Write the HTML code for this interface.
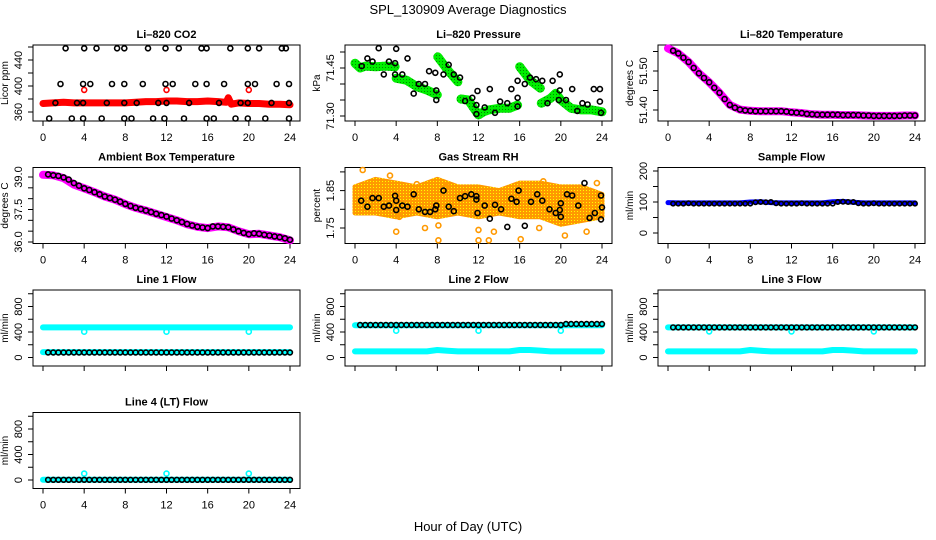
<!DOCTYPE html>
<html><head><meta charset="utf-8"><style>
html,body{margin:0;padding:0;background:#fff;width:936px;height:540px;overflow:hidden}
svg text{font-family:"Liberation Sans",sans-serif;fill:#000}
</style></head><body>
<svg id="chart" width="936" height="540" viewBox="0 0 936 540" xmlns="http://www.w3.org/2000/svg">
<defs>
<pattern id="greenPat" width="3" height="3" patternUnits="userSpaceOnUse"><rect width="3" height="3" fill="#00ee00"/><rect x="1" y="1" width="1" height="1" fill="#008800"/></pattern>
<pattern id="rhPat" width="3" height="3" patternUnits="userSpaceOnUse"><rect width="3" height="3" fill="#ff9900"/><rect x="1" y="1" width="1" height="1" fill="#ffff00"/></pattern>
</defs>
<text x="468" y="14" text-anchor="middle" font-size="13">SPL_130909  Average Diagnostics</text>
<text x="468" y="531" text-anchor="middle" font-size="13">Hour of Day (UTC)</text>
</svg>
<script>
// ---------- data ----------
const xTickHours = [0,4,8,12,16,20,24];
const halfHours = [0.5,1,1.5,2,2.5,3,3.5,4,4.5,5,5.5,6,6.5,7,7.5,8,8.5,9,9.5,10,10.5,11,11.5,12,12.5,13,13.5,14,14.5,15,15.5,16,16.5,17,17.5,18,18.5,19,19.5,20,20.5,21,21.5,22,22.5,23,23.5,24];
const hourly = [0,1,2,3,4,5,6,7,8,9,10,11,12,13,14,15,16,17,18,19,20,21,22,23,24];

// CO2
const co2RedHours = [0,1,2,3,4,5,6,7,8,9,10,11,12,13,14,15,16,17,17.8,18,18.3,19,20,21,22,23,24];
const co2RedVals = [373,374,375,374,374,374,374,374,374,375,376,376,377,377,376,376,377,376,375,382,372,374,373,373,372,372,371];
const co2RedCircleHours = [4,12,20];
const co2RedCircleVals = [394,394,394];
const co2BlackHours = [2.2,4.0,5.2,7.2,7.9,10.2,11.9,13.2,15.4,15.9,18.2,19.9,21.0,23.2,23.6,
 1.7,3.9,4.6,6.7,7.9,9.7,11.9,12.6,14.8,15.9,17.6,19.9,20.6,22.7,23.9,
 0.6,2.8,3.9,5.7,7.9,8.6,10.7,11.8,13.7,15.9,16.6,18.7,19.9,21.6,23.9,
 1.2,3.3,3.9,6.2,7.9,9.1,11.2,12.0,14.2,17.1,19.2,19.9,22.2,23.9];
const co2BlackVals = [458,458,458,458,458,458,458,458,458,458,458,458,458,458,458,
 403,403,403,403,403,403,403,403,403,403,403,403,403,403,403,
 350,350,350,350,350,350,350,350,350,350,350,350,350,350,350,
 374,374,374,374,374,374,374,374,374,374,374,374,374,374];

// Pressure (null breaks the green trace)
const presGreenHours = [0,0.5,1,2,3,3.9,null,4,5,6,7,8,null,8.05,9,10,null,10.3,11,12,12.5,13,14,15,15.8,null,16,17,18,null,18.1,19,19.5,20,21,22,23,24];
const presGreenVals = [71.465,71.450,71.456,71.454,71.456,71.454,null,71.418,71.412,71.392,71.381,71.366,null,71.485,71.444,71.407,null,71.353,71.350,71.303,71.313,71.319,71.324,71.324,71.334,null,71.454,71.412,71.387,null,71.340,71.355,71.371,71.350,71.324,71.319,71.319,71.313];
const presBlackHours = [0.65,1.2,1.7,2.3,2.8,3.3,3.9,4.0,3.9,4.6,5.1,5.7,6.2,6.8,7.2,7.8,7.9,7.9,8.6,9.1,9.6,10.2,10.7,11.4,11.8,11.9,11.8,12.6,13.1,13.6,14.1,14.8,15.2,15.8,15.8,15.8,16.5,17.0,17.6,18.2,18.7,19.2,19.9,19.9,19.8,20.5,21.1,21.6,22.1,22.6,23.2,23.8,23.8,23.9];
const presBlackVals = [71.456,71.48,71.47,71.512,71.43,71.47,71.465,71.51,71.43,71.43,71.48,71.37,71.40,71.40,71.44,71.435,71.38,71.35,71.43,71.46,71.43,71.42,71.347,71.357,71.334,71.378,71.306,71.327,71.384,71.31,71.345,71.34,71.384,71.357,71.41,71.33,71.40,71.42,71.415,71.41,71.34,71.41,71.43,71.38,71.35,71.35,71.384,71.316,71.34,71.336,71.384,71.384,71.345,71.31];

// Li-820 temperature (hourly band, half-hourly black)
const liTempBand = [51.558,51.545,51.523,51.494,51.471,51.444,51.413,51.401,51.398,51.397,51.397,51.397,51.394,51.392,51.389,51.388,51.388,51.387,51.387,51.386,51.385,51.385,51.385,51.386,51.386];
const liTempBlack = [51.552,51.545,51.534,51.523,51.508,51.494,51.482,51.471,51.457,51.444,51.428,51.413,51.406,51.401,51.399,51.398,51.397,51.397,51.397,51.397,51.397,51.397,51.396,51.394,51.393,51.392,51.390,51.389,51.388,51.388,51.388,51.388,51.388,51.387,51.387,51.387,51.387,51.386,51.386,51.385,51.385,51.385,51.385,51.385,51.385,51.386,51.386,51.386];

// Ambient box temperature
const ambBand = [39.10,39.08,38.95,38.65,38.48,38.30,38.10,37.95,37.75,37.58,37.45,37.30,37.15,37.00,36.82,36.70,36.64,36.72,36.68,36.50,36.36,36.38,36.30,36.22,36.08];
const ambBlack = [39.12,39.08,39.05,38.98,38.88,38.72,38.60,38.48,38.40,38.30,38.20,38.10,38.03,37.95,37.86,37.76,37.66,37.58,37.52,37.45,37.38,37.30,37.24,37.17,37.08,37.00,36.92,36.83,36.76,36.70,36.67,36.64,36.72,36.72,36.70,36.68,36.58,36.50,36.42,36.36,36.40,36.38,36.33,36.30,36.26,36.22,36.17,36.10];

// Gas stream RH
const rhCloudHours = [0,2,4,6,8,10,12,14,16,18,20,22,24];
const rhCloudUpper = [1.86,1.88,1.87,1.86,1.88,1.86,1.86,1.85,1.87,1.87,1.86,1.86,1.84];
const rhCloudLower = [1.79,1.79,1.78,1.79,1.78,1.79,1.78,1.79,1.78,1.78,1.76,1.77,1.78];
const rhOutHours = [0.75,3.4,6.0,4.0,4.3,6.8,8.1,8.1,12.0,13.0,12.0,13.5,16.1,17.9,20.4,22.5,23.5,18.3,8.9];
const rhOutVals = [1.905,1.89,1.867,1.74,1.78,1.75,1.717,1.757,1.717,1.717,1.745,1.74,1.72,1.75,1.73,1.74,1.87,1.875,1.86];
const rhBlackHours = [0.6,1.2,1.7,2.3,2.8,3.3,3.9,4.0,4.0,4.6,5.1,5.7,6.2,6.8,7.3,7.9,7.8,8.6,9.1,9.6,10.2,10.7,11.3,11.8,11.8,11.9,12.6,13.1,13.6,14.2,14.8,15.2,15.7,15.9,16.5,17.1,17.7,18.2,18.9,19.5,19.9,20.0,20.0,20.6,21.1,21.7,22.3,22.8,23.3,23.9,23.9,24.0];
const rhBlackVals = [1.823,1.807,1.83,1.83,1.807,1.81,1.836,1.823,1.798,1.81,1.807,1.84,1.80,1.793,1.793,1.81,1.80,1.85,1.807,1.795,1.83,1.835,1.84,1.835,1.826,1.79,1.81,1.775,1.812,1.80,1.753,1.828,1.82,1.85,1.756,1.82,1.84,1.823,1.80,1.79,1.798,1.78,1.816,1.84,1.837,1.81,1.87,1.777,1.79,1.773,1.837,1.805];

// Sample flow
const sampleBand = [98,97,97,97,97,97,97,97,100,101,98,97,97,97,97,97,101,102,99,97,97,97,97,97,97];
const sampleBlack = [95,95,95,96,95,95,95,95,95,95,95,95,95,95,95,95,99,100,99,100,96,95,95,95,95,96,95,95,95,95,95,95,100,101,100,100,96,95,95,96,95,95,95,95,95,95,95,95];

// Line flows
const l1CyanHigh = [472,472,472,472,472,472,472,472,472,472,472,472,472,472,472,472,472,472,472,472,472,472,472,472,472];
const l1CyanLow = [85,85,85,85,85,85,85,85,85,85,85,85,85,85,85,85,85,85,85,85,85,85,85,85,85];
const l1Black = [78,78,78,78,78,78,78,78,78,78,78,78,78,78,78,78,78,78,78,78,78,78,78,78,78,78,78,78,78,78,78,78,78,78,78,78,78,78,78,78,78,78,78,78,78,78,78,78];
const l2CyanHigh = [505,505,505,505,505,505,505,505,505,505,505,505,505,505,505,505,505,505,505,505,505,505,505,505,505];
const l2CyanLow = [95,95,95,95,95,95,95,95,118,105,95,95,95,95,95,95,118,118,108,95,95,95,95,95,95];
const l2Black = [510,510,510,510,510,510,510,510,510,510,510,510,510,510,510,510,510,510,510,510,510,510,510,510,510,510,510,510,510,510,510,510,510,510,510,510,510,510,510,510,525,525,525,525,525,525,525,525];
const l3CyanHigh = [472,472,472,472,472,472,472,472,472,472,472,472,472,472,472,472,472,472,472,472,472,472,472,472,472];
const l3CyanLow = [95,95,95,95,95,95,95,95,118,105,95,95,95,95,95,95,118,118,108,95,95,95,95,95,95];
const l3Black = [472,472,472,472,472,472,472,472,472,472,472,472,472,472,472,472,472,472,472,472,472,472,472,472,472,472,472,472,472,472,472,472,472,472,472,472,472,472,472,472,472,472,472,472,472,472,472,472];
const l4CyanLow = [5,5,5,5,5,5,5,5,5,5,5,5,5,5,5,5,5,5,5,5,5,5,5,5,5];
const l4Black = [3,3,3,3,3,3,3,3,3,3,3,3,3,3,3,3,3,3,3,3,3,3,3,3,3,3,3,3,3,3,3,3,3,3,3,3,3,3,3,3,3,3,3,3,3,3,3,3];
const flowDipHours = [4,12,20];
const l1DipVals = [405,405,405];
const l2DipVals = [420,420,420];
const l3DipVals = [410,410,410];
const l4DipVals = [100,100,100];

// ---------- drawing ----------
const NS = "http://www.w3.org/2000/svg";
const svg = document.getElementById("chart");
const colX0 = [43,355,668];
const rowT = [45,167.5,290,412.5];

function mk(tag, attrs, parent){
  const e = document.createElementNS(NS, tag);
  for (const k in attrs) e.setAttribute(k, attrs[k]);
  parent.appendChild(e);
  return e;
}

function panel(name, c, r, title, ylab, v0, p0, k, ticks, labels, labFmt, showXLabels){
  const g = mk("g", {}, svg);
  
  
  const x0 = colX0[c], T = rowT[r], L = x0 - 10, W = 267, H = 76;
  const P = {g, xs: h => x0 + h * 247 / 24, ys: v => T + p0 - (v - v0) * k};
  const box = mk("rect", {x:L, y:T, width:W, height:H, fill:"none", stroke:"#000", "stroke-width":1}, g);
  
  
  const t = mk("text", {x:L + W/2, y:T - 7, "text-anchor":"middle", "font-size":11, "font-weight":"bold"}, g);
  t.textContent = title;
  
  
  const yl = mk("text", {x:L - 25, y:T + H/2, "text-anchor":"middle", "font-size":10, transform:`rotate(-90 ${L-25} ${T+H/2})`}, g);
  yl.textContent = ylab;
  
  
  const xa = mk("g", {}, g);
  
  
  mk("line", {x1:P.xs(0), x2:P.xs(24), y1:T+H, y2:T+H, stroke:"#000"}, xa);
  xTickHours.forEach(h => {
    mk("line", {x1:P.xs(h), x2:P.xs(h), y1:T+H, y2:T+H+5, stroke:"#000"}, xa);
    if (showXLabels){
      const tl = mk("text", {x:P.xs(h), y:T+96, "text-anchor":"middle", "font-size":11}, xa);
      tl.textContent = h;
      
      
    }
  });
  const ya = mk("g", {}, g);
  
  
  mk("line", {x1:L, x2:L, y1:P.ys(ticks[0]), y2:P.ys(ticks[ticks.length-1]), stroke:"#000"}, ya);
  ticks.forEach(v => mk("line", {x1:L-5, x2:L, y1:P.ys(v), y2:P.ys(v), stroke:"#000"}, ya));
  labels.forEach(v => {
    const yy = P.ys(v), xx = L - 11;
    const tl = mk("text", {x:xx, y:yy, "text-anchor":"middle", "font-size":11, transform:`rotate(-90 ${xx} ${yy})`}, ya);
    tl.textContent = labFmt(v);
    
    
  });
  return P;
}

function band(P, hrs, vals, color, w, nm){
  let d = "", pen = false;
  for (let i = 0; i < hrs.length; i++){
    if (hrs[i] === null || vals[i] === null){ pen = false; continue; }
    d += (pen ? "L" : "M") + P.xs(hrs[i]).toFixed(1) + " " + P.ys(vals[i]).toFixed(1) + " ";
    pen = true;
  }
  const p = mk("path", {d, fill:"none", stroke:color, "stroke-width":w, "stroke-linejoin":"round", "stroke-linecap":"round"}, P.g);
  
  
}

function pts(P, hrs, vals, color, nm, r){
  const g = mk("g", {}, P.g);
  
  
  for (let i = 0; i < hrs.length; i++){
    const c = mk("circle", {cx:P.xs(hrs[i]).toFixed(1), cy:P.ys(vals[i]).toFixed(1), r:r||2.5, fill:"none", stroke:color, "stroke-width":1.6}, g);
    
    
  }
}

const f0 = v => String(v), f2 = v => v.toFixed(2), f1 = v => v.toFixed(1);

let P = panel("co2", 0, 0, "Li\u2013820 CO2", "Licor ppm", 360, 67, 0.65, [360,380,400,420,440,460], [360,400,440], f0, true);
band(P, co2RedHours, co2RedVals, "#ff0000", 7, "co2-red-series");
pts(P, co2RedCircleHours, co2RedCircleVals, "#ff0000", "co2-red-points");
pts(P, co2BlackHours, co2BlackVals, "#000", "co2-black-points");

P = panel("pressure", 1, 0, "Li\u2013820 Pressure", "kPa", 71.30, 71, 320, [71.30,71.35,71.40,71.45,71.50], [71.30,71.45], f2, true);
band(P, presGreenHours, presGreenVals, "url(#greenPat)", 9, "pressure-green-series");
pts(P, presBlackHours, presBlackVals, "#000", "pressure-black-points");

P = panel("li-temp", 2, 0, "Li\u2013820 Temperature", "degrees C", 51.40, 65, 390, [51.40,51.45,51.50,51.55], [51.40,51.50], f2, true);
band(P, hourly, liTempBand, "#ff00ff", 8, "li-temp-magenta-series");
pts(P, halfHours, liTempBlack, "#000", "li-temp-black-points");

P = panel("ambient-temp", 0, 1, "Ambient Box Temperature", "degrees C", 36, 74.5, 21.67, [36,36.5,37,37.5,38,38.5,39], [36,37.5,39], f1, true);
band(P, hourly, ambBand, "#ff00ff", 8, "ambient-magenta-series");
pts(P, halfHours, ambBlack, "#000", "ambient-black-points");

P = panel("rh", 1, 1, "Gas Stream RH", "percent", 1.75, 60.5, 374, [1.75,1.80,1.85,1.90], [1.75,1.85], f2, true);
{
  let d = "";
  rhCloudHours.forEach((h,i) => d += (i ? "L" : "M") + P.xs(h).toFixed(1) + " " + P.ys(rhCloudUpper[i]).toFixed(1) + " ");
  for (let i = rhCloudHours.length - 1; i >= 0; i--) d += "L" + P.xs(rhCloudHours[i]).toFixed(1) + " " + P.ys(rhCloudLower[i]).toFixed(1) + " ";
  const cl = mk("path", {d: d + "Z", fill:"url(#rhPat)", stroke:"url(#rhPat)", "stroke-width":5, "stroke-linejoin":"round"}, P.g);
  
  
}
pts(P, rhOutHours, rhOutVals, "#ff9900", "rh-orange-outliers", 2.5);
pts(P, rhBlackHours, rhBlackVals, "#000", "rh-black-points");

P = panel("sample-flow", 2, 1, "Sample Flow", "ml/min", 0, 65.5, 0.31, [0,50,100,150,200], [0,100,200], f0, true);
band(P, hourly, sampleBand, "#0000ff", 5, "sample-flow-blue-series");
pts(P, halfHours, sampleBlack, "#000", "sample-flow-black-points", 2.2);

const fT = [0,200,400,600,800,1000], fL = [0,400,800];
P = panel("line1-flow", 0, 2, "Line 1 Flow", "ml/min", 0, 67.5, 0.06375, fT, fL, f0, false);
band(P, hourly, l1CyanHigh, "#00ffff", 6, "line1-cyan-high");
band(P, hourly, l1CyanLow, "#00ffff", 6, "line1-cyan-low");
pts(P, flowDipHours, l1DipVals, "#00ffff", "line1-cyan-dips");
pts(P, halfHours, l1Black, "#000", "line1-black-points", 2.4);
P = panel("line2-flow", 1, 2, "Line 2 Flow", "ml/min", 0, 67.5, 0.06375, fT, fL, f0, false);
band(P, hourly, l2CyanHigh, "#00ffff", 6, "line2-cyan-high");
band(P, hourly, l2CyanLow, "#00ffff", 6, "line2-cyan-low");
pts(P, flowDipHours, l2DipVals, "#00ffff", "line2-cyan-dips");
pts(P, halfHours, l2Black, "#000", "line2-black-points", 2.4);
P = panel("line3-flow", 2, 2, "Line 3 Flow", "ml/min", 0, 67.5, 0.06375, fT, fL, f0, false);
band(P, hourly, l3CyanHigh, "#00ffff", 6, "line3-cyan-high");
band(P, hourly, l3CyanLow, "#00ffff", 6, "line3-cyan-low");
pts(P, flowDipHours, l3DipVals, "#00ffff", "line3-cyan-dips");
pts(P, halfHours, l3Black, "#000", "line3-black-points", 2.4);
P = panel("line4-flow", 0, 3, "Line 4 (LT) Flow", "ml/min", 0, 67.5, 0.06375, fT, fL, f0, true);
band(P, hourly, l4CyanLow, "#00ffff", 6, "line4-cyan-low");
pts(P, flowDipHours, l4DipVals, "#00ffff", "line4-cyan-dips");
pts(P, halfHours, l4Black, "#000", "line4-black-points", 2.4);
</script>
</body></html>
